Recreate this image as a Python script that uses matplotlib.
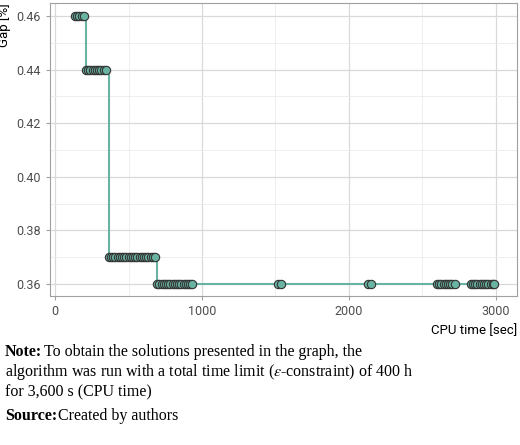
import matplotlib.pyplot as plt

plt.rcParams.update({'font.family': 'Roboto', 'font.size': 9, 'mathtext.fontset': 'stix'})

# CPU time [sec] and gap [%] of the solutions found
cpu_time = [135, 150, 165, 180, 195,
            210, 225, 240, 255, 270, 285, 300, 315, 330, 345,
            365, 380, 395, 410, 425, 440, 455, 470, 485, 500, 515, 530, 545,
            560, 575, 590, 605, 620, 635, 650, 665, 680,
            695, 710, 725, 740, 755, 770, 785, 800, 815, 830, 845, 860, 875,
            890, 905, 920, 930,
            1520, 1540, 2130, 2150,
            2600, 2615, 2630, 2645, 2660, 2675, 2690, 2705, 2720,
            2830, 2845, 2860, 2875, 2890, 2905, 2920, 2935, 2950, 2965, 2980, 2990]
gap = ([0.46] * 5 + [0.44] * 10 + [0.37] * 22 +
       [0.36] * 17 + [0.36] * 4 + [0.36] * 9 + [0.36] * 12)

fig = plt.figure(figsize=(5.2, 4.45), dpi=100)
ax = fig.add_axes([50 / 520, 149 / 445, 467 / 520, 293 / 445])
ax.plot(cpu_time, gap, drawstyle='steps-post', color='#69b3a2', lw=1.5, zorder=2)
ax.plot(cpu_time, gap, 'o', ms=6, mfc='#69b3a2', mec='#333333', mew=0.8, zorder=3)

ax.set_xlim(-35, 3145)
ax.set_ylim(0.3555, 0.4649)
ax.set_xticks([0, 1000, 2000, 3000])
ax.set_xticks([500, 1500, 2500], minor=True)
ax.set_yticks([0.36, 0.38, 0.40, 0.42, 0.44, 0.46])
ax.set_yticks([0.37, 0.39, 0.41, 0.43, 0.45], minor=True)
ax.yaxis.set_major_formatter(plt.FormatStrFormatter('%.2f'))
ax.grid(which='major', color='#d9d9d9', lw=0.9)
ax.grid(which='minor', color='#ebebeb', lw=0.6)
ax.set_axisbelow(True)
for s in ax.spines.values():
    s.set_color('#a0a0a0')
ax.tick_params(which='both', length=3, color='#a0a0a0', labelcolor='#4d4d4d')
ax.tick_params(which='minor', length=0)
ax.set_ylabel('Gap [%]', loc='top', fontsize=9.5)
ax.set_xlabel('CPU time [sec]', loc='right', fontsize=9.5)

serif = 'Liberation Serif'
fs = 11.5
fig.text(5 / 520, 1 - 352 / 445, 'Note:', family=serif, weight='bold', fontsize=fs, va='center')
fig.text(44 / 520, 1 - 352 / 445, 'To obtain the solutions presented in the graph, the',
         family=serif, fontsize=fs, va='center')
fig.text(5 / 520, 1 - 372 / 445,
         r'algorithm was run with a total time limit ($\it{\varepsilon}$-constraint) of 400 h',
         family=serif, fontsize=fs, va='center')
fig.text(5 / 520, 1 - 392 / 445, 'for 3,600 s (CPU time)', family=serif, fontsize=fs, va='center')
fig.text(5 / 520, 1 - 416 / 445, 'Source:', family=serif, weight='bold', fontsize=fs, va='center')
fig.text(58 / 520, 1 - 416 / 445, 'Created by authors', family=serif, fontsize=fs, va='center')

fig.savefig('out.png', dpi=100)
